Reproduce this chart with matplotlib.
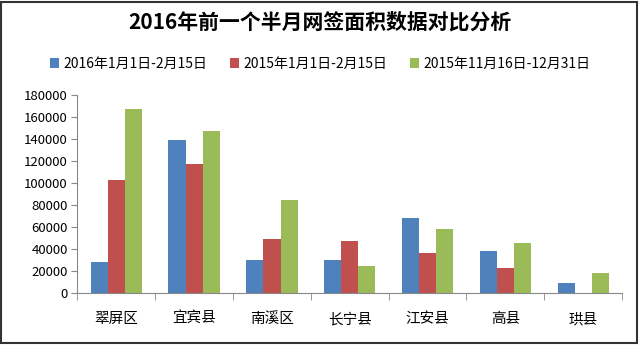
import numpy as np
import matplotlib.pyplot as plt
from matplotlib.patches import Rectangle

plt.rcParams['font.family'] = ['Noto Sans CJK SC', 'DejaVu Sans']

districts = ['翠屏区', '宜宾县', '南溪区', '长宁县', '江安县', '高县', '珙县']
series_names = ['2016年1月1日-2月15日', '2015年1月1日-2月15日', '2015年11月16日-12月31日']
vals_2016 = [28000, 139000, 30000, 30000, 68000, 38000, 9000]
vals_2015 = [103000, 117000, 49000, 47000, 36000, 22000, 0]
vals_2015_end = [167000, 147000, 84000, 24000, 58000, 45000, 18000]
colors = ['#4F81BD', '#C0504D', '#9BBB59']

fig = plt.figure(figsize=(6.4, 3.45), dpi=100)
ax = fig.add_axes([0.121, 0.152, 0.851, 0.572])

x = np.arange(len(districts))
w = 0.22
for i, (vals, name) in enumerate(zip([vals_2016, vals_2015, vals_2015_end], series_names)):
    ax.bar(x + (i - 1) * w, vals, width=w, color=colors[i], label=name, zorder=2)

ax.set_xlim(-0.5, len(districts) - 0.5)
ax.set_ylim(0, 180000)
ax.set_yticks(np.arange(0, 180001, 20000))
ax.tick_params(axis='y', labelsize=9.5, length=4, color='#888888', pad=3)

# category labels centred, tick marks on the boundaries
ax.set_xticks(x)
ax.set_xticklabels(districts, fontsize=10.5)
ax.tick_params(axis='x', length=0, pad=14)
ax.set_xticks(np.arange(-0.5, len(districts)), minor=True)
ax.tick_params(axis='x', which='minor', length=5, color='#888888')

for s in ['top', 'right']:
    ax.spines[s].set_visible(False)
for s in ['left', 'bottom']:
    ax.spines[s].set_color('#888888')

fig.text(0.5, 0.935, '2016年前一个半月网签面积数据对比分析', ha='center', va='center',
         fontsize=15, fontweight='bold')
fig.legend(loc='center', bbox_to_anchor=(0.5, 0.815), ncol=3, frameon=False,
           fontsize=10, handlelength=0.7, handleheight=0.7, handletextpad=0.3,
           columnspacing=1.6)

fig.patches.append(Rectangle((0.002, 0.005), 0.993, 0.99, transform=fig.transFigure,
                             fill=False, edgecolor='#333333', linewidth=1.5))

fig.savefig('out.png', dpi=100)
